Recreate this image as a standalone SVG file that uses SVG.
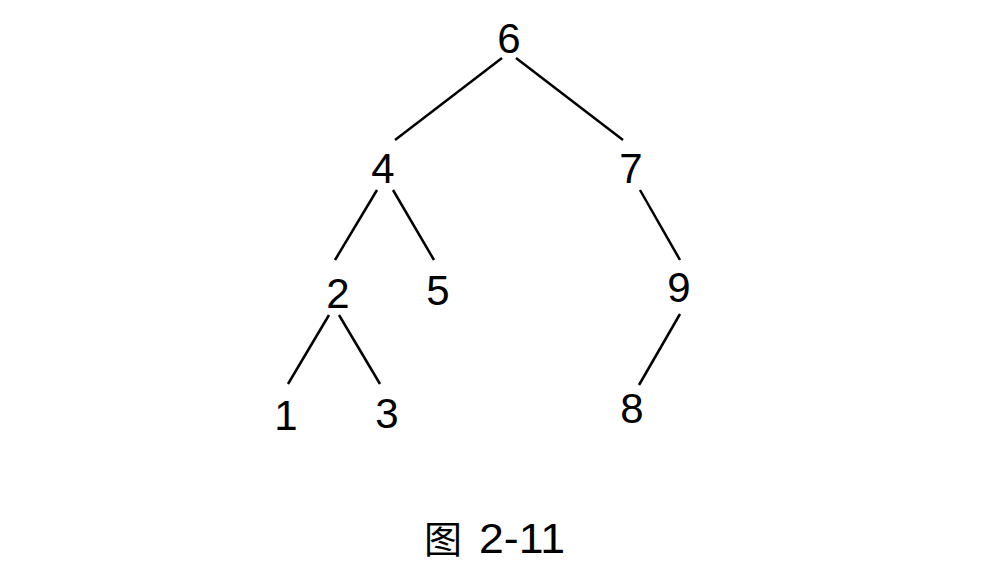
<svg xmlns="http://www.w3.org/2000/svg" width="981" height="563" viewBox="0 0 981 563">
<style>
.n text{font-family:"Liberation Sans","Noto Sans CJK SC",sans-serif;font-size:42px;fill:#000;text-anchor:middle}
.e line{stroke:#000;stroke-width:2.5;stroke-linecap:butt}
.cap{font-family:"Liberation Sans","Noto Sans CJK SC",sans-serif;font-size:43px;fill:#000}
</style>
<rect width="981" height="563" fill="#fff"/>
<g id="edges" class="e">
<line x1="502" y1="58" x2="395" y2="140"/>
<line x1="516" y1="58" x2="623" y2="140"/>
<line x1="377" y1="190" x2="335" y2="260"/>
<line x1="393" y1="190" x2="434" y2="260"/>
<line x1="640" y1="190" x2="680" y2="260"/>
<line x1="329" y1="315" x2="288" y2="384"/>
<line x1="339" y1="315" x2="380" y2="384"/>
<line x1="680" y1="314" x2="639" y2="385"/>
</g>
<g id="n6" class="n"><text x="509" y="53">6</text></g>
<g id="n4" class="n"><text x="383" y="183">4</text></g>
<g id="n7" class="n"><text x="631" y="183">7</text></g>
<g id="n2" class="n"><text x="338" y="308">2</text></g>
<g id="n5" class="n"><text x="438" y="305">5</text></g>
<g id="n9" class="n"><text x="679" y="302">9</text></g>
<g id="n1" class="n"><text x="286" y="430">1</text></g>
<g id="n3" class="n"><text x="387" y="428">3</text></g>
<g id="n8" class="n"><text x="632" y="423">8</text></g>
<g id="caption"><text class="cap" y="553"><tspan x="424" font-size="38">图</tspan> <tspan x="479" textLength="86" lengthAdjust="spacingAndGlyphs">2-11</tspan></text></g>
</svg>
